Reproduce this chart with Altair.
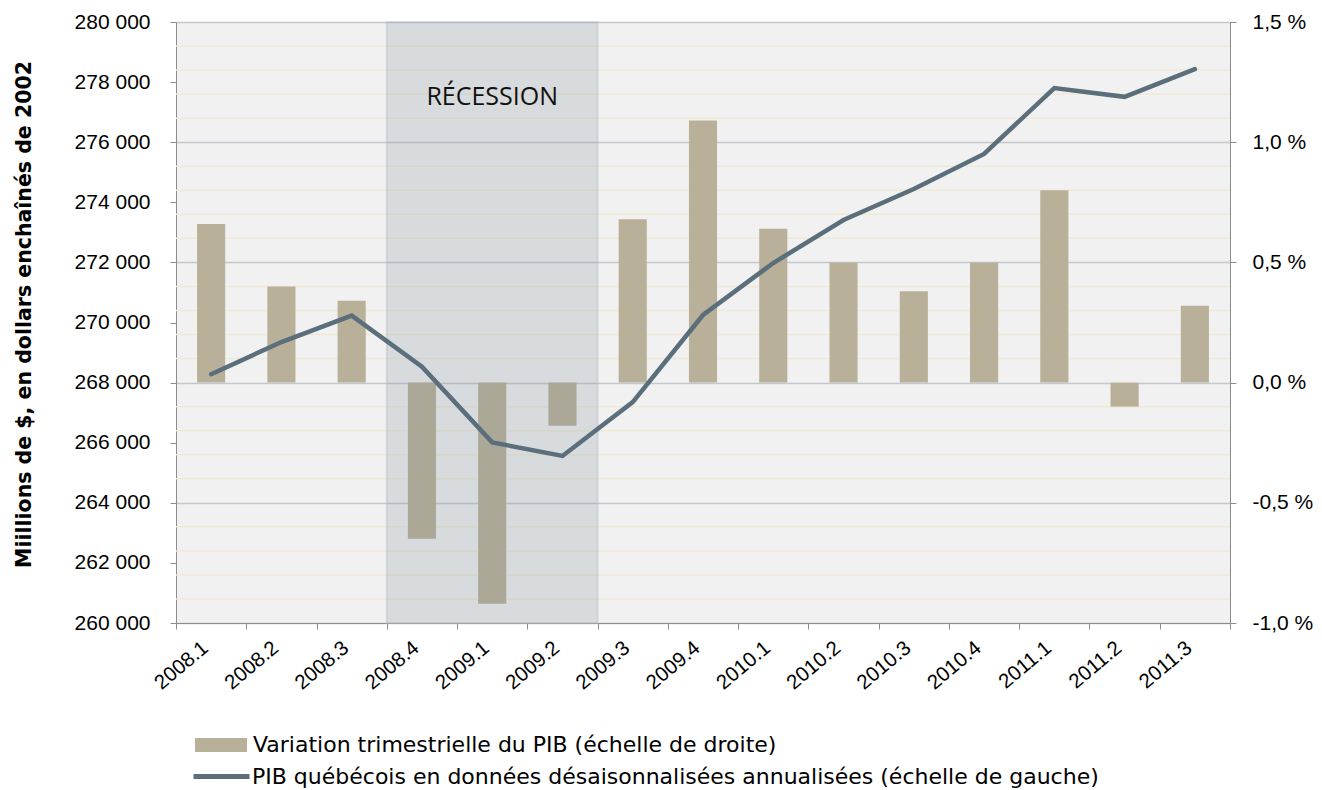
import altair as alt
import pandas as pd

quarters = ["2008.1", "2008.2", "2008.3", "2008.4", "2009.1", "2009.2", "2009.3", "2009.4",
            "2010.1", "2010.2", "2010.3", "2010.4", "2011.1", "2011.2", "2011.3"]
pib = [268280, 269350, 270230, 268530, 266010, 265560, 267350, 270250,
       271980, 273410, 274440, 275610, 277800, 277510, 278430]
variation = [0.66, 0.40, 0.34, -0.65, -0.92, -0.18, 0.68, 1.09,
             0.64, 0.50, 0.38, 0.50, 0.80, -0.10, 0.32]
minor_grid = [-0.9, -0.8, -0.7, -0.6, -0.4, -0.3, -0.2, -0.1, 0.1, 0.2, 0.3, 0.4,
              0.6, 0.7, 0.8, 0.9, 1.1, 1.2, 1.3, 1.4]
right_ticks = [-1.0, -0.5, 0.0, 0.5, 1.0, 1.5]
left_ticks = list(range(260000, 280001, 2000))
recession = {"start": "2008.4", "end": "2009.2", "label": "RÉCESSION"}

bar_label = "Variation trimestrielle du PIB (échelle de droite)"
line_label = "PIB québécois en données désaisonnalisées annualisées (échelle de gauche)"

df = pd.DataFrame({"trimestre": quarters, "pib": pib, "variation": variation,
                   "s_bar": bar_label, "s_line": line_label})
df_minor = pd.DataFrame({"v": minor_grid})
df_rec = pd.DataFrame([recession])

FONT = "DejaVu Sans"
AXFONT = "Liberation Sans"

x_axis = alt.Axis(title=None, labelAngle=-40, labelAlign="right", labelBaseline="middle",
                  labelFont=AXFONT, labelFontSize=20.5, labelPadding=16, labelOffset=-6,
                  tickBand="extent", tickSize=6, tickColor="#8c8c8c", domainColor="#8c8c8c",
                  labelColor="#000000", grid=False)
x_enc = alt.X("trimestre:N", scale=alt.Scale(domain=quarters, paddingInner=0, paddingOuter=0),
              sort=quarters, axis=x_axis)

right_scale = alt.Scale(domain=[-1.0, 1.5], nice=False, zero=False)
right_axis = alt.Axis(orient="right", title=None, values=right_ticks,
                      labelExpr="replace(replace(format(datum.value, '.1f'), '.', ','), '−', '-') + ' %'",
                      labelFont=AXFONT, labelFontSize=21, labelPadding=16, tickSize=6,
                      tickColor="#8c8c8c", domainColor="#8c8c8c", labelColor="#000000",
                      grid=True, gridColor="#c3c8cf", gridWidth=1.5)

minor_rules = alt.Chart(df_minor).mark_rule(color="#efe9d6", strokeWidth=1.5).encode(
    y=alt.Y("v:Q", scale=right_scale, axis=right_axis)
)

bars = alt.Chart(df).mark_bar(width={"band": 0.4}).encode(
    x=x_enc,
    y=alt.Y("variation:Q", scale=right_scale, axis=right_axis),
    fill=alt.Fill("s_bar:N", scale=alt.Scale(domain=[bar_label], range=["#b8b098"]),
                  legend=alt.Legend(title=None, orient="none", legendX=19, legendY=697,
                                    symbolType="M-1,-0.27L1,-0.27L1,0.27L-1,0.27Z",
                                    symbolSize=2704, symbolStrokeWidth=0, symbolOpacity=1,
                                    labelFontSize=22, labelOffset=6, padding=0,
                                    labelColor="#000000", labelLimit=1200)),
)

rec_rect = alt.Chart(df_rec).mark_rect(fill="#7f8e9c", fillOpacity=0.22,
                                       stroke="#b9bfc5", strokeWidth=2, strokeOpacity=0.45).encode(
    x=alt.X("start:N", bandPosition=0, scale=alt.Scale(domain=quarters, paddingInner=0, paddingOuter=0),
            sort=quarters, axis=x_axis),
    x2=alt.X2("end:N", bandPosition=1),
    y=alt.Y(datum=1.5, scale=right_scale, axis=right_axis),
    y2=alt.Y2(datum=-1.0),
)

inner = alt.layer(minor_rules, bars, rec_rect)

left_axis = alt.Axis(orient="left", title="Miillions de $, en dollars enchaînés de 2002",
                     values=left_ticks,
                     labelExpr="replace(format(datum.value, ',d'), ',', ' ')",
                     labelFont=AXFONT, labelFontSize=21, labelPadding=20, tickSize=6,
                     tickColor="#8c8c8c", domainColor="#8c8c8c", labelColor="#000000", grid=False,
                     titleFontSize=20.5, titleFontWeight="bold", titleAngle=-90,
                     titleX=-152, titleY=292, titleAlign="center", titleBaseline="middle",
                     titleColor="#000000")
left_scale = alt.Scale(domain=[260000, 280000], nice=False, zero=False)

line = alt.Chart(df).mark_line(strokeWidth=4.5, strokeCap="round", strokeJoin="miter").encode(
    x=x_enc,
    y=alt.Y("pib:Q", scale=left_scale, axis=left_axis),
    stroke=alt.Stroke("s_line:N", scale=alt.Scale(domain=[line_label], range=["#5b6e7b"]),
                      legend=alt.Legend(title=None, orient="none", legendX=15, legendY=724,
                                        symbolType="stroke", symbolSize=3136,
                                        symbolStrokeWidth=5, labelFontSize=22, labelOffset=0,
                                        padding=0, labelColor="#000000", labelLimit=1200)),
)

rec_text = alt.Chart(df_rec).mark_text(font="Open Sans", fontSize=25, color="#111111",
                                       align="center", baseline="middle").encode(
    x=alt.X("label_x:N", scale=alt.Scale(domain=quarters, paddingInner=0, paddingOuter=0),
            sort=quarters, axis=x_axis),
    y=alt.Y(datum=277500, scale=left_scale, axis=left_axis),
    text="label:N",
).transform_calculate(label_x="'2009.1'")

outer_line = alt.layer(line, rec_text)

chart = alt.layer(inner, outer_line).resolve_scale(
    y="independent", fill="independent", stroke="independent"
).properties(
    width=1054, height=601,
    padding={"left": 168, "top": 14, "right": 84, "bottom": 175},
    autosize=alt.AutoSizeParams(type="none"),
).configure(font=FONT).configure_view(fill="#f1f1f1", stroke=None)

chart.save("out.html", embed_options={"renderer": "svg", "actions": False})
